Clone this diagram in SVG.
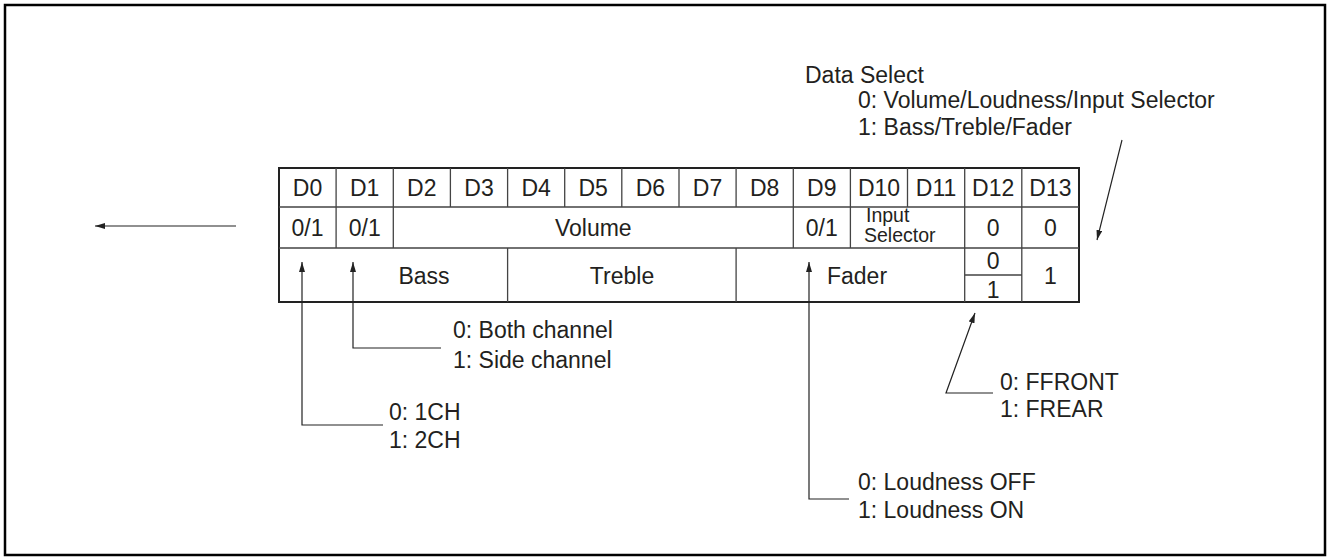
<svg xmlns="http://www.w3.org/2000/svg" width="1327" height="558" viewBox="0 0 1327 558">
<style>
text{font-family:"Liberation Sans",Arial,sans-serif;font-size:23px;fill:#231f20}
.c{text-anchor:middle}
.s{font-size:19.5px}
.g{stroke:#444;stroke-width:1.3;fill:none}
.b{stroke:#222;stroke-width:2;fill:none}
.l{stroke:#222;stroke-width:1.2;fill:none}
</style>
<defs>
<marker id="ah" viewBox="0 0 10 6" refX="10" refY="3" markerWidth="10" markerHeight="6" markerUnits="userSpaceOnUse" orient="auto">
<path d="M0,0 L10,3 L0,6 Z" fill="#222"/>
</marker>
</defs>
<rect x="5" y="5" width="1320" height="550" fill="#fff" stroke="#000" stroke-width="2.5"/>
<g id="table">
<rect x="279" y="168" width="800" height="134" class="b"/>
<path class="g" d="M279,207H1079M279,248H1079
M336.1,168V248M393.3,168V248M450.4,168V207M507.6,168V207M564.7,168V207M621.8,168V207M679,168V207M736.1,168V207M793.3,168V248M850.4,168V248M907.5,168V207M964.7,168V302M1021.8,168V302
M507.6,248V302M736.1,248V302M964.7,275H1021.8"/>
<g class="c">
<text x="307.5" y="196">D0</text><text x="364.7" y="196">D1</text><text x="421.8" y="196">D2</text><text x="479" y="196">D3</text><text x="536.1" y="196">D4</text><text x="593.2" y="196">D5</text><text x="650.4" y="196">D6</text><text x="707.5" y="196">D7</text><text x="764.7" y="196">D8</text><text x="821.8" y="196">D9</text><text x="879" y="196">D10</text><text x="936.1" y="196">D11</text><text x="993.2" y="196">D12</text><text x="1050.4" y="196">D13</text>
<text x="307.5" y="236">0/1</text><text x="364.7" y="236">0/1</text><text x="593.3" y="236">Volume</text><text x="821.8" y="236">0/1</text><text x="993.2" y="236">0</text><text x="1050.4" y="236">0</text>
<text x="424" y="284">Bass</text><text x="622" y="284">Treble</text><text x="857" y="284">Fader</text><text x="993.2" y="269">0</text><text x="993.2" y="298">1</text><text x="1050.4" y="284">1</text>
</g>
<text x="866" y="222" class="s">Input</text>
<text x="864" y="242" class="s">Selector</text>
</g>
<g id="connectors" class="l">
<line x1="236" y1="226" x2="95" y2="226" marker-end="url(#ah)"/>
<polyline points="383,425 302,425 302,262" marker-end="url(#ah)"/>
<polyline points="441,348 353,348 353,262" marker-end="url(#ah)"/>
<polyline points="849,499 809,499 809,262" marker-end="url(#ah)"/>
<polyline points="993,393 946,393 975,313" marker-end="url(#ah)"/>
<line x1="1122" y1="140" x2="1097" y2="240" marker-end="url(#ah)"/>
</g>
<g id="data-select">
<text x="805" y="83">Data Select</text>
<text x="858" y="108">0: Volume/Loudness/Input Selector</text>
<text x="858" y="135">1: Bass/Treble/Fader</text>
</g>
<g id="label-d0">
<text x="389" y="420">0: 1CH</text>
<text x="389" y="448">1: 2CH</text>
</g>
<g id="label-d1">
<text x="453" y="338">0: Both channel</text>
<text x="453" y="368">1: Side channel</text>
</g>
<g id="label-d9">
<text x="858" y="490">0: Loudness OFF</text>
<text x="858" y="518">1: Loudness ON</text>
</g>
<g id="label-d12">
<text x="1000" y="390">0: FFRONT</text>
<text x="1000" y="417">1: FREAR</text>
</g>
</svg>
